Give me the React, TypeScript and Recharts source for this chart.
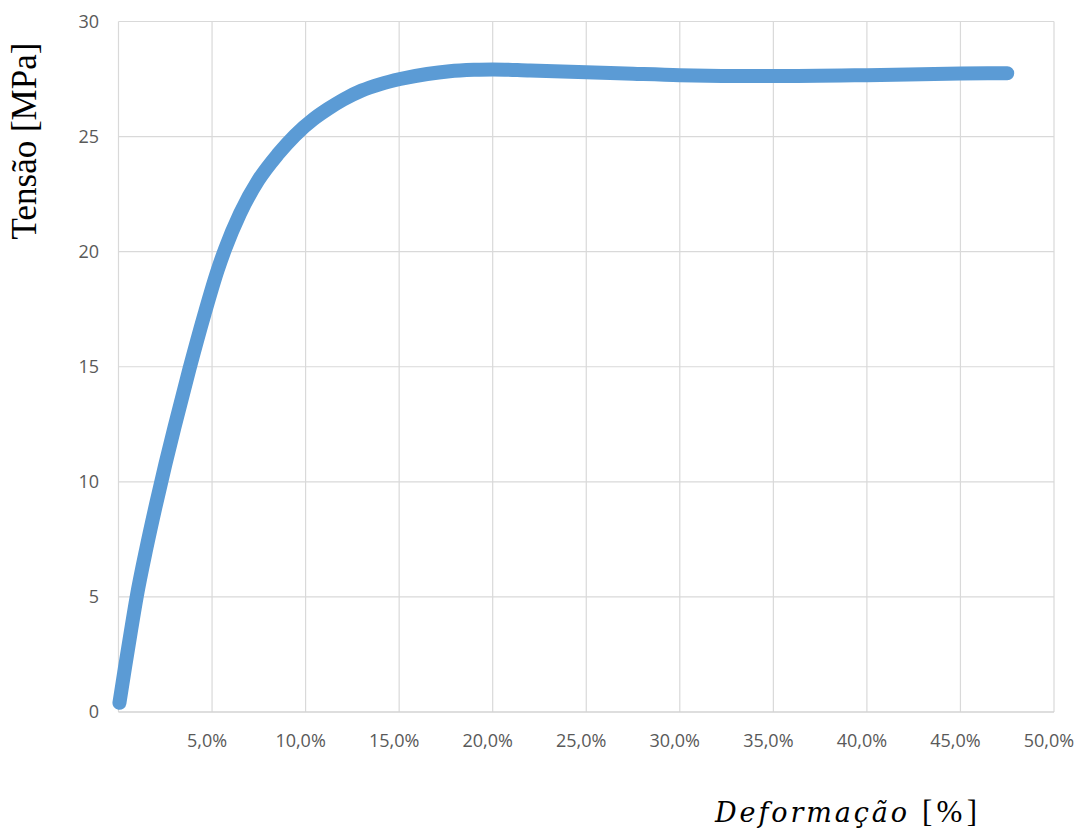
import React from "react";
import { LineChart, Line, XAxis, YAxis, CartesianGrid } from "recharts";

const strain = [0.05, 0.35, 0.65, 0.97, 1.5, 2.0, 2.5, 3.0, 3.79, 4.6, 5.3, 5.69, 6.49, 7.47, 8.54, 9.43, 10.41, 11.2, 12.0, 13.0, 14.0, 15.05, 16.5, 17.7, 19.0, 20.0, 22.0, 25.0, 27.5, 30.0, 35.0, 40.0, 45.0, 47.5];
const stress = [0.4, 1.95, 3.45, 5.0, 7.15, 9.0, 10.75, 12.4, 14.9, 17.3, 19.2, 20.1, 21.65, 23.1, 24.25, 25.05, 25.75, 26.2, 26.6, 27.0, 27.28, 27.5, 27.72, 27.84, 27.9, 27.92, 27.87, 27.8, 27.73, 27.67, 27.63, 27.67, 27.74, 27.75];
const xTicks = [0, 5, 10, 15, 20, 25, 30, 35, 40, 45, 50];
const yTicks = [0, 5, 10, 15, 20, 25, 30];

const data = strain.map((x, i) => ({ x, y: stress[i] }));

const XTick = (props: any) => {
  const { x, payload } = props;
  if (payload.value === 0) return null;
  const label = payload.value.toFixed(1).replace(".", ",") + "%";
  return (
    <text x={x - 5} y={747} textAnchor="middle" fill="#595959" fontFamily="'Open Sans', sans-serif" fontSize={18}>
      {label}
    </text>
  );
};

const YTick = (props: any) => {
  const { y, payload } = props;
  return (
    <text x={99} y={y} dy="0.36em" textAnchor="end" fill="#595959" fontFamily="'Open Sans', sans-serif" fontSize={18}>
      {payload.value}
    </text>
  );
};

export default function App() {
  return (
    <div style={{ position: "absolute", left: 0, top: 0, width: 1076, height: 835, background: "#fff" }}>
      <LineChart width={1076} height={835} data={data} margin={{ top: 21.5, right: 22, bottom: 0, left: 0 }}>
        <CartesianGrid stroke="#D9D9D9" strokeWidth={1.2} />
        <XAxis
          dataKey="x"
          type="number"
          domain={[0, 50]}
          ticks={xTicks}
          height={123}
          axisLine={{ stroke: "#D0D0D0" }}
          tickLine={false}
          tick={<XTick />}
          interval={0}
        />
        <YAxis
          type="number"
          domain={[0, 30]}
          ticks={yTicks}
          width={118.5}
          axisLine={false}
          tickLine={false}
          tick={<YTick />}
          interval={0}
        />
        <Line
          type="monotone"
          dataKey="y"
          stroke="#5B9BD5"
          strokeWidth={14}
          strokeLinecap="round"
          strokeLinejoin="round"
          dot={false}
          activeDot={false}
          isAnimationActive={false}
        />
        <text
          x={36}
          y={141}
          transform="rotate(-90 36 141)"
          textAnchor="middle"
          fontFamily="'Liberation Serif', 'Times New Roman', serif"
          fontSize={35}
          fill="#000"
        >
          Tensão [MPa]
        </text>
        <text x={715} y={822} fontFamily="'DejaVu Serif', serif" fontSize={27} fontStyle="italic" fill="#000" textLength={192} lengthAdjust="spacing">
          Deformação
        </text>
        <text x={922} y={822} fontFamily="'Liberation Serif', 'Times New Roman', serif" fontSize={31} fill="#000" textLength={55} lengthAdjust="spacing">
          [%]
        </text>
      </LineChart>
    </div>
  );
}
